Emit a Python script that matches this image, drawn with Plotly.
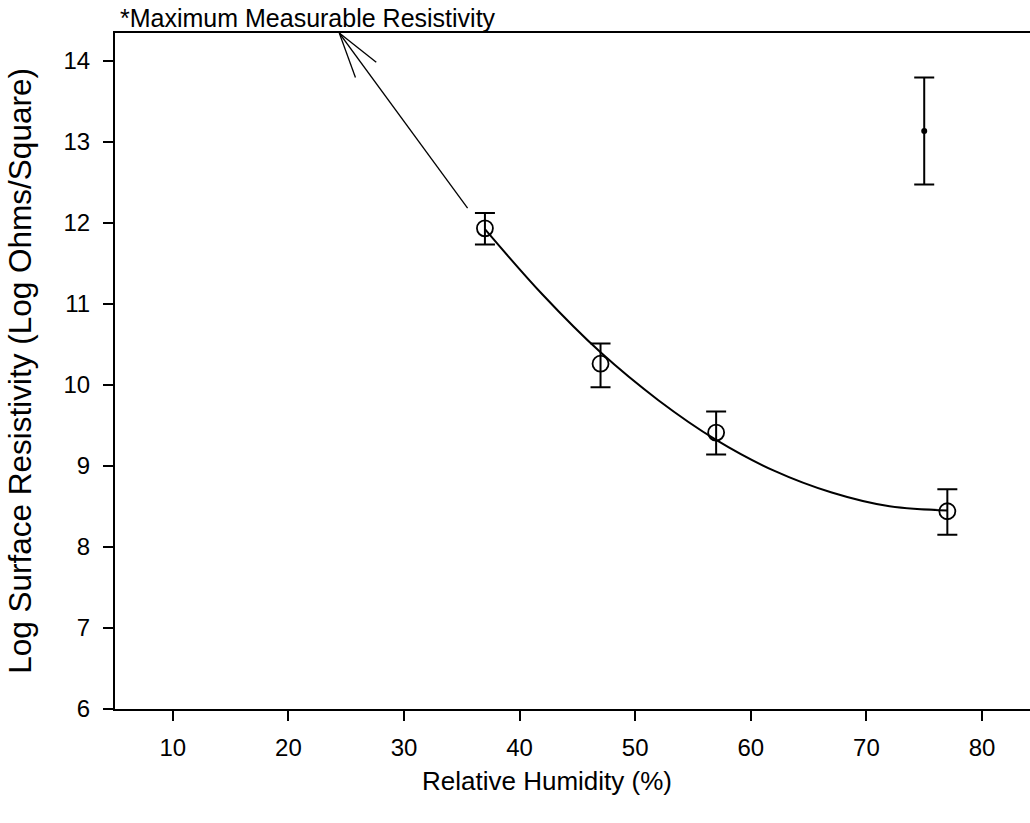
import plotly.graph_objects as go

# Measured surface resistivity vs relative humidity (mean with asymmetric error)
humidity = [37, 47, 57, 77]
log_resistivity = [11.93, 10.26, 9.41, 8.44]
err_plus = [0.19, 0.25, 0.26, 0.27]
err_minus = [0.20, 0.29, 0.27, 0.29]

# Fitted trend curve
fit_x = [37, 42, 47, 52, 57, 62, 67, 72, 77]
fit_y = [11.92, 11.11, 10.40, 9.81, 9.32, 8.94, 8.67, 8.50, 8.45]

# Reference point with its own error range
ref_x = [75]
ref_y = [13.13]
ref_plus = [0.66]
ref_minus = [0.66]

x_ticks = [10, 20, 30, 40, 50, 60, 70, 80]
y_ticks = [6, 7, 8, 9, 10, 11, 12, 13, 14]

# Arrow toward the measurement ceiling
arrow_tail = (35.5, 12.18)
arrow_tip = (24.4, 14.34)
arrow_barbs = [(25.8, 13.79), (27.6, 13.98)]

FONT = "Liberation Sans, Arial, Helvetica, sans-serif"

fig = go.Figure()

fig.add_trace(go.Scatter(
    x=fit_x, y=fit_y, mode="lines",
    line=dict(color="black", width=2, shape="spline", smoothing=1.0),
    hoverinfo="skip", showlegend=False,
))

fig.add_trace(go.Scatter(
    x=humidity, y=log_resistivity, mode="markers",
    marker=dict(symbol="circle-open", size=16, color="black", line=dict(width=1.8, color="black")),
    error_y=dict(type="data", array=err_plus, arrayminus=err_minus,
                 color="black", thickness=2, width=10),
    showlegend=False,
))

fig.add_trace(go.Scatter(
    x=ref_x, y=ref_y, mode="markers",
    marker=dict(symbol="circle", size=6, color="black"),
    error_y=dict(type="data", array=ref_plus, arrayminus=ref_minus,
                 color="black", thickness=2, width=10),
    showlegend=False,
))

# Arrow shaft and open head
fig.add_shape(type="line", x0=arrow_tail[0], y0=arrow_tail[1], x1=arrow_tip[0], y1=arrow_tip[1],
              line=dict(color="black", width=1.3))
for bx, by in arrow_barbs:
    fig.add_shape(type="line", x0=arrow_tip[0], y0=arrow_tip[1], x1=bx, y1=by,
                  line=dict(color="black", width=1.3))

fig.add_annotation(
    text="*Maximum Measurable Resistivity",
    xref="paper", yref="paper", x=0.003, y=1.0, yshift=-1,
    xanchor="left", yanchor="bottom", showarrow=False,
    font=dict(family=FONT, size=25, color="black"),
)

# Axis titles
fig.add_annotation(
    text="Relative Humidity (%)",
    xref="paper", yref="paper", x=0.472, y=-0.106,
    xanchor="center", yanchor="middle", showarrow=False,
    font=dict(family=FONT, size=26, color="black"),
)
fig.add_annotation(
    text="Log Surface Resistivity (Log Ohms/Square)",
    xref="paper", yref="paper", x=-0.104, y=0.5, textangle=-90,
    xanchor="center", yanchor="middle", showarrow=False,
    font=dict(family=FONT, size=31.5, color="black"),
)

fig.update_layout(
    width=1030, height=823,
    margin=dict(l=115, r=0, t=33, b=114),
    paper_bgcolor="white", plot_bgcolor="white",
    font=dict(family=FONT, color="black"),
    xaxis=dict(
        range=[5, 84.15], tickvals=x_ticks, showgrid=False, zeroline=False,
        showline=True, linecolor="black", linewidth=2, mirror=True,
        ticks="outside", ticklen=10, tickwidth=2, tickcolor="black",
        tickfont=dict(size=24), ticklabelstandoff=6,
    ),
    yaxis=dict(
        range=[6, 14.34], tickvals=y_ticks, showgrid=False, zeroline=False,
        showline=True, linecolor="black", linewidth=2,
        ticks="outside", ticklen=10, tickwidth=2, tickcolor="black",
        tickfont=dict(size=24), ticklabelstandoff=8,
    ),
)

fig.write_html("out.html")
